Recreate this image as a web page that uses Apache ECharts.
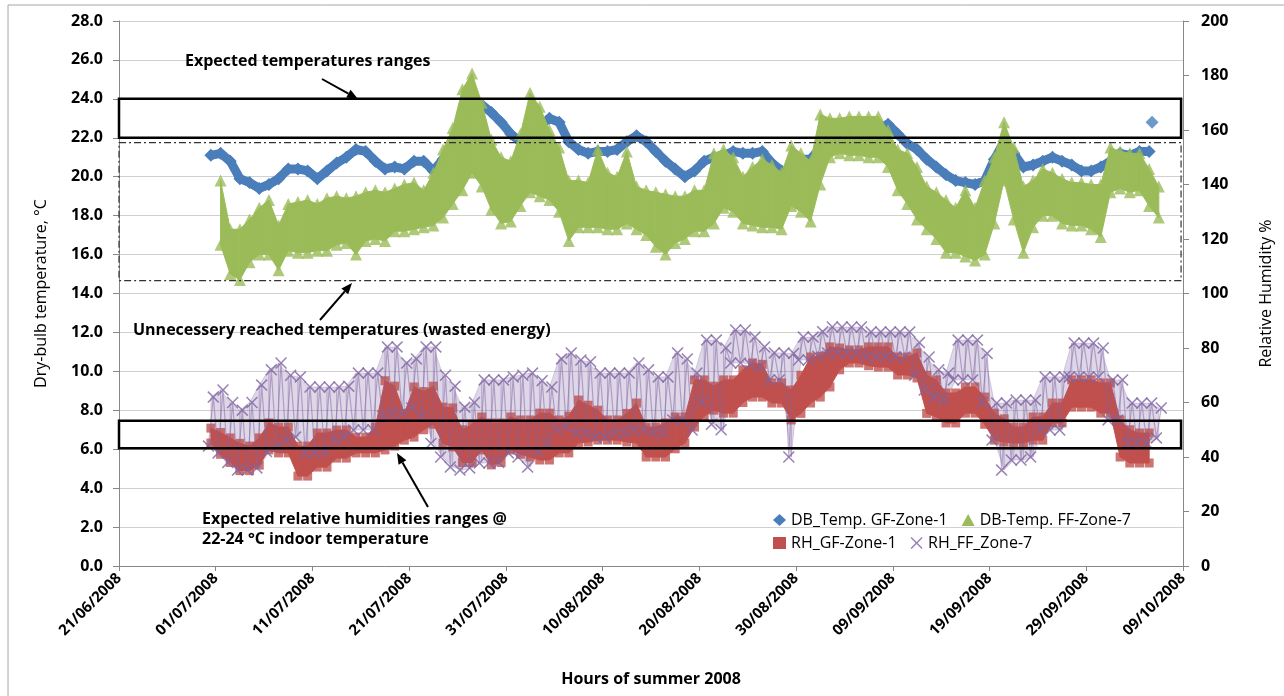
<!DOCTYPE html>
<html>
<head>
<meta charset="utf-8">
<title>Dry-bulb temperature and RH, summer 2008</title>
<script src="https://cdn.jsdelivr.net/npm/echarts@6/dist/echarts.min.js"></script>
<style>
    html, body { margin: 0; padding: 0; background: #fff; }
    #chart { width: 1284px; height: 696px; }
</style>
</head>
<body>
<div id="chart"></div>
<script>
// x axis is in days after 21/06/2008; first reading day is 30/06/2008
var firstDay = 9;
var xTickLabels = ['21/06/2008', '01/07/2008', '11/07/2008', '21/07/2008', '31/07/2008', '10/08/2008',
    '20/08/2008', '30/08/2008', '09/09/2008', '19/09/2008', '29/09/2008', '09/10/2008'];

// DB_Temp. GF-Zone-1, daily level (°C)
var dbGF = [21.1, 21.2, 20.8, 19.9, 19.7, 19.4, 19.6, 19.9, 20.4, 20.4,
    20.3, 19.9, 20.3, 20.7, 21.0, 21.4, 21.3, 20.8, 20.4, 20.5,
    20.4, 20.8, 20.8, 20.3, 20.9, 21.7, 23.2, 23.6, 23.7, 23.3,
    22.8, 22.2, 21.8, 21.8, 22.6, 23.0, 22.8, 21.8, 21.4, 21.2,
    21.3, 21.3, 21.4, 21.8, 22.1, 21.8, 21.3, 20.8, 20.4, 20.0,
    20.3, 20.8, 21.0, 21.1, 21.3, 21.2, 21.2, 21.3, 20.7, 20.3,
    20.0, 20.9, 20.9, 21.5, 22.0, 22.2, 22.3, 22.3, 22.4, 22.5,
    22.7, 22.2, 21.7, 21.4, 20.9, 20.5, 20.1, 19.8, 19.7, 19.6,
    19.8, 20.9, 21.8, 21.2, 20.5, 20.6, 20.8, 21.0, 20.8, 20.6,
    20.3, 20.3, 20.5, 20.8, 21.2, 21.1, 21.3, 21.3, null];
// single stray GF reading near the end
var dbGFStray = [[106.8, 22.8]];

// DB-Temp. FF-Zone-7, daily low / high (°C)
var dbFFLow = [null, 16.5, 15.0, 14.7, 15.6, 16.0, 16.0, 15.2, 16.2, 16.1,
    16.1, 16.2, 16.2, 16.5, 16.6, 16.0, 16.7, 16.8, 16.7, 17.2,
    17.2, 17.3, 17.4, 17.5, 17.9, 18.6, 19.3, 20.2, 19.5, 18.3,
    17.6, 17.7, 18.5, 19.2, 19.0, 18.8, 18.2, 16.7, 17.4, 17.4,
    17.4, 17.3, 17.3, 17.6, 17.3, 17.0, 16.4, 16.0, 16.6, 16.8,
    17.2, 17.2, 17.6, 18.4, 18.2, 17.6, 17.5, 17.4, 17.4, 17.3,
    18.5, 18.2, 17.7, 19.6, 21.0, 21.2, 21.1, 21.1, 21.0, 21.0,
    20.5, 19.3, 18.6, 17.8, 17.3, 16.8, 16.1, 16.1, 15.9, 15.7,
    16.0, 17.6, 19.8, 17.8, 16.1, 17.4, 18.0, 18.0, 17.6, 17.5,
    17.5, 17.3, 16.9, 19.2, 19.4, 19.2, 19.3, 18.5, 17.9];
var dbFFHigh = [null, 19.8, 17.3, 17.3, 17.8, 18.4, 18.8, 17.5, 18.6, 18.7,
    18.8, 18.6, 18.9, 19.0, 18.9, 19.0, 19.2, 19.3, 19.2, 19.4,
    19.6, 19.7, 19.3, 20.2, 21.4, 22.5, 24.5, 25.3, 23.8, 21.9,
    21.0, 20.8, 22.2, 24.3, 23.6, 22.4, 21.5, 19.8, 19.8, 19.7,
    21.4, 20.2, 20.0, 21.3, 19.5, 19.3, 19.2, 19.1, 19.0, 19.0,
    19.3, 19.3, 21.2, 21.4, 21.0, 20.0, 20.5, 20.9, 20.6, 20.2,
    21.6, 21.2, 20.8, 23.2, 23.0, 23.0, 23.1, 23.1, 23.1, 23.1,
    22.4, 21.4, 21.2, 20.5, 19.5, 19.2, 18.8, 18.4, 19.3, 18.4,
    19.8, 21.0, 22.8, 21.5, 19.5, 19.8, 20.4, 20.2, 19.9, 19.7,
    19.7, 19.6, 19.6, 21.5, 21.3, 21.2, 21.2, 20.4, 19.5];

// RH_GF-Zone-1, daily low / high (%)
var rhGFLow = [45.1, 41, 38, 35, 35, 37, 42.6, 41.5, 41.5, 33,
    33, 36.3, 36.3, 39.6, 39.6, 41.5, 41.5, 41.5, 42.6, 44,
    46.2, 47.3, 50, 52, 45, 43.7, 38, 38, 42.6, 37.1,
    38, 42.6, 41, 40, 38.9, 38.9, 41.5, 41.5, 45.1, 45.5,
    46.2, 46.2, 46.2, 45.5, 45.1, 40, 40, 40, 43, 45.1,
    51, 55, 57.2, 56.1, 56.1, 60, 62, 62, 59.8, 59.8,
    53.6, 56, 59.8, 62, 65.7, 72, 74.5, 74.5, 73.5, 73,
    73, 70.1, 70.1, 69, 56, 54.7, 52.5, 52.5, 56.1, 56.1,
    52, 46.2, 45.5, 45.1, 45.1, 46.2, 46.2, 52.5, 52.5, 58.3,
    58.3, 58.3, 56.1, 56.1, 40, 37.8, 37.8, 37.8, null];
var rhGFHigh = [50.6, 49, 47, 45, 44, 47, 52.5, 51, 51, 44,
    44, 48.8, 48.8, 49.9, 49.9, 47.3, 47.3, 51, 68, 66,
    56, 65.7, 64, 66, 58.3, 58, 50, 52, 54.7, 52.5,
    52.5, 54.7, 53.6, 53.6, 56.1, 56.1, 53.6, 55, 60.9, 59,
    57.2, 53.6, 53.6, 56, 59.8, 51, 51, 52.5, 54.7, 54.7,
    68.3, 68.3, 66, 68.3, 68.3, 72, 74.5, 74, 67.2, 67.2,
    64.6, 70, 76.7, 77, 80.4, 80, 79.3, 79.3, 80.4, 80.4,
    80.4, 76.7, 76.7, 78.2, 70, 68.3, 63.5, 63.5, 65.7, 65.7,
    62, 56.1, 54, 51, 51, 54.7, 54.7, 59.8, 59.8, 68.3,
    68.3, 68.3, 67.2, 67.2, 53.6, 50, 48.8, 48.8, null];

// RH_FF_Zone-7, daily low / high (%)
var rhFFLow = [44, 41.5, 38, 35.2, 35.2, 36, 42, 43.7, 46, 47.3,
    41.5, 41.5, 42, 46, 47.3, 49.9, 49.9, 50, 55, 56.1,
    56.1, 58, 55, 45, 40, 36.3, 35.2, 36, 37.8, 37.8,
    38, 41.5, 40, 36.3, 42, 44.8, 50, 51, 48.8, 48.8,
    47.3, 47.3, 48.8, 48.8, 49.9, 49.9, 48.8, 48.8, 53.6, 53.6,
    49.9, 60, 52, 50, 74.5, 74.5, 74, 73, 68.3, 68.3,
    40, 75.6, 75.6, 77, 78.2, 78.2, 78.2, 78.2, 76.7, 76.7,
    76.7, 76.7, 76.7, 70, 64.6, 62, 60.9, 68.3, 68.3, 68.3,
    60, 46.2, 35.2, 38.9, 38.9, 40, 49.9, 49.9, 49.9, 69.4,
    69.4, 69.4, 69.4, 53.6, 53.6, 45.1, 45.1, 45.1, 47];
var rhFFHigh = [62, 64.6, 60, 57.2, 60, 66.4, 72, 74.5, 70, 69.4,
    65.7, 65.7, 65.7, 65.7, 66, 70.8, 70.8, 70.8, 80.4, 80.4,
    74.5, 76, 80.4, 80.4, 70, 66, 58.3, 60, 68.3, 68.3,
    68.3, 69.4, 70, 70.8, 68, 65.7, 76, 78.2, 75.6, 75,
    70.8, 70.8, 70.8, 70.8, 74.5, 72, 69.4, 69.4, 78.2, 76,
    70.8, 82.9, 82.9, 80, 86.6, 86.6, 84, 80.4, 78.2, 78.2,
    78, 84, 84, 86, 87.7, 87.7, 87.7, 87.7, 85.9, 85.9,
    85.9, 85.9, 85.9, 82, 76.7, 72, 70.8, 82.9, 82.9, 82.9,
    78, 59.8, 59.8, 60.9, 60.9, 60.9, 69.4, 69.4, 69.4, 81.8,
    81.8, 81.8, 80, 68.3, 68.3, 59.8, 59.8, 59.8, 58];

// annotation boxes: [xFrom, yFrom, xTo, yTo] in axis units
var tempBox = [0, 22.0, 109.8, 24.0];
var wasteBox = [0, 14.66, 109.8, 21.75];
var rhBox = [0, 43.2, 109.8, 53.3];

var FONT = '"Open Sans", "Liberation Sans", sans-serif';
var crossPath = 'path://M0,0.9L0.9,0L5,4.1L9.1,0L10,0.9L5.9,5L10,9.1L9.1,10L5,5.9L0.9,10L0,9.1L4.1,5Z';

function daily(values) {
    var out = [];
    for (var i = 0; i < values.length; i++) {
        if (values[i] != null) out.push([firstDay + i + 0.5, values[i]]);
    }
    return out;
}
// low and high of each day as separate points
function edges(low, high) {
    var out = [];
    for (var i = 0; i < low.length; i++) {
        if (low[i] != null) out.push([firstDay + i + 0.5, low[i]]);
        if (high[i] != null) out.push([firstDay + i + 0.5, high[i]]);
    }
    return out;
}
// night low / afternoon high, joined, for the hatch of RH_FF
function zigzag(low, high) {
    var out = [];
    for (var i = 0; i < low.length; i++) {
        if (low[i] != null) out.push([firstDay + i + 0.25, low[i]]);
        if (high[i] != null) out.push([firstDay + i + 0.75, high[i]]);
    }
    return out;
}
function bandItems(low, high) {
    var out = [];
    for (var i = 0; i < low.length; i++) {
        if (low[i] != null && high[i] != null) out.push([firstDay + i + 0.5, low[i], high[i]]);
    }
    return out;
}
// filled band between the daily low and high, drawn through the axes
function bandSeries(name, items, yIndex, color, fill, z) {
    return {
        name: name,
        type: 'custom',
        yAxisIndex: yIndex,
        z: z,
        silent: true,
        data: items,
        encode: { x: 0, y: [1, 2] },
        itemStyle: { color: color },
        renderItem: function (params, api) {
            var i = params.dataIndex;
            if (i >= items.length - 1) return { type: 'group', children: [] };
            var a = items[i], b = items[i + 1];
            var pts = [api.coord([a[0], a[1]]), api.coord([b[0], b[1]]), api.coord([b[0], b[2]]), api.coord([a[0], a[2]])];
            return { type: 'polygon', shape: { points: pts }, style: { fill: fill, stroke: fill, lineWidth: 1 } };
        }
    };
}

var chart = echarts.init(document.getElementById('chart'));

var legendText = { fontSize: 16, color: '#000', width: 176, fontFamily: FONT };
var option = {
    animation: false,
    textStyle: { fontFamily: FONT },
    grid: { left: 119, right: 101, top: 21, bottom: 130 },
    legend: [
        {
            left: 768, top: 507, itemWidth: 13, itemHeight: 12, itemGap: 14, textStyle: legendText,
            data: [
                { name: 'DB_Temp. GF-Zone-1', icon: 'diamond' },
                { name: 'DB-Temp. FF-Zone-7', icon: 'triangle' }
            ]
        },
        {
            left: 768, top: 530, itemWidth: 13, itemHeight: 12, itemGap: 14, textStyle: legendText,
            data: [
                { name: 'RH_GF-Zone-1', icon: 'rect' },
                { name: 'RH_FF_Zone-7', icon: crossPath }
            ]
        }
    ],
    xAxis: {
        type: 'value',
        min: 0,
        max: 110,
        interval: 10,
        name: 'Hours of summer 2008',
        nameLocation: 'middle',
        nameGap: 105,
        nameTextStyle: { fontSize: 16, fontWeight: 'bold', color: '#000' },
        axisLine: { lineStyle: { color: '#878787' } },
        axisTick: { show: true, length: 5, lineStyle: { color: '#878787' } },
        splitLine: { show: false },
        axisLabel: {
            rotate: 45,
            margin: 10,
            fontSize: 15,
            fontWeight: 'bold',
            color: '#000',
            formatter: function (v) {
                return xTickLabels[Math.round(v / 10)];
            }
        }
    },
    yAxis: [
        {
            type: 'value',
            min: 0,
            max: 28,
            interval: 2,
            name: 'Dry-bulb temperature, °C',
            nameLocation: 'middle',
            nameRotate: 90,
            nameGap: 70,
            nameTextStyle: { fontSize: 16, color: '#000' },
            axisLine: { show: true, lineStyle: { color: '#878787' } },
            axisTick: { show: true, length: 6, lineStyle: { color: '#878787' } },
            splitLine: { lineStyle: { color: '#d0d0d0' } },
            axisLabel: {
                margin: 16,
                fontSize: 16,
                fontWeight: 'bold',
                color: '#000',
                formatter: function (v) { return v.toFixed(1); }
            }
        },
        {
            type: 'value',
            min: 0,
            max: 200,
            interval: 20,
            position: 'right',
            name: 'Relative Humidity %',
            nameLocation: 'middle',
            nameRotate: 90,
            nameGap: 75,
            nameTextStyle: { fontSize: 16, color: '#000' },
            axisLine: { show: true, lineStyle: { color: '#878787' } },
            axisTick: { show: true, length: 6, lineStyle: { color: '#878787' } },
            splitLine: { show: false },
            axisLabel: { margin: 18, fontSize: 16, fontWeight: 'bold', color: '#000' }
        }
    ],
    series: [
        {
            name: 'DB_Temp. GF-Zone-1',
            type: 'line',
            yAxisIndex: 0,
            z: 2,
            data: daily(dbGF),
            symbol: 'diamond',
            symbolSize: 13,
            showAllSymbol: true,
            itemStyle: { color: '#4A7EBB' },
            lineStyle: { color: '#4A7EBB', width: 9, join: 'bevel' }
        },
        {
            name: 'DB_Temp. GF-Zone-1',
            type: 'scatter',
            yAxisIndex: 0,
            z: 2,
            data: dbGFStray,
            symbol: 'diamond',
            symbolSize: 13,
            itemStyle: { color: '#4A7EBB' }
        },
        bandSeries('DB-Temp. FF-Zone-7', bandItems(dbFFLow, dbFFHigh), 0, '#9BBB59', '#9BBB59', 3),
        {
            name: 'DB-Temp. FF-Zone-7',
            type: 'scatter',
            yAxisIndex: 0,
            z: 4,
            data: edges(dbFFLow, dbFFHigh),
            symbol: 'triangle',
            symbolSize: 12,
            itemStyle: { color: '#9BBB59' }
        },
        {
            name: 'RH_FF_Zone-7',
            type: 'line',
            yAxisIndex: 1,
            z: 8,
            data: zigzag(rhFFLow, rhFFHigh),
            symbol: crossPath,
            symbolSize: 12,
            showAllSymbol: true,
            itemStyle: { color: '#8064A2', opacity: 0.8 },
            lineStyle: { color: 'rgba(128,100,162,0.5)', width: 1.2 }
        },
        bandSeries('RH_FF_Zone-7', bandItems(rhFFLow, rhFFHigh), 1, '#8064A2', 'rgba(128,100,162,0.26)', 5),
        bandSeries('RH_GF-Zone-1', bandItems(rhGFLow, rhGFHigh), 1, '#C0504D', '#C0504D', 6),
        {
            name: 'RH_GF-Zone-1',
            type: 'scatter',
            yAxisIndex: 1,
            z: 7,
            data: edges(rhGFLow, rhGFHigh),
            symbol: 'rect',
            symbolSize: 9,
            itemStyle: { color: '#C0504D' }
        }
    ]
};
chart.setOption(option);

// annotation boxes placed through the axes, then texts and arrows
function box(b, yIndex, style) {
    var x1 = chart.convertToPixel({ xAxisIndex: 0 }, b[0]);
    var x2 = chart.convertToPixel({ xAxisIndex: 0 }, b[2]);
    var y1 = chart.convertToPixel({ yAxisIndex: yIndex }, b[3]);
    var y2 = chart.convertToPixel({ yAxisIndex: yIndex }, b[1]);
    return {
        type: 'rect',
        z: 100,
        shape: { x: x1, y: y1, width: x2 - x1, height: y2 - y1 },
        style: style
    };
}
function arrow(x1, y1, x2, y2) {
    var a = Math.atan2(y2 - y1, x2 - x1), L = 11, W = 4.5;
    var bx = x2 - L * Math.cos(a), by = y2 - L * Math.sin(a);
    return [
        { type: 'line', z: 100, shape: { x1: x1, y1: y1, x2: bx, y2: by }, style: { stroke: '#000', lineWidth: 2 } },
        {
            type: 'polygon', z: 100,
            shape: { points: [[x2, y2], [bx + W * Math.sin(a), by - W * Math.cos(a)], [bx - W * Math.sin(a), by + W * Math.cos(a)]] },
            style: { fill: '#000' }
        }
    ];
}
function label(text, x, y) {
    return {
        type: 'text', z: 100,
        style: { text: text, x: x, y: y, fill: '#000', fontSize: 16, fontWeight: 'bold', fontFamily: FONT, verticalAlign: 'middle' }
    };
}

var graphics = [
    { type: 'rect', z: 0, shape: { x: 8, y: 5, width: 1300, height: 720 }, style: { fill: 'none', stroke: '#a6a6a6', lineWidth: 1 } },
    box(wasteBox, 0, { fill: 'none', stroke: '#333', lineWidth: 1.2, lineDash: [7, 3, 2, 3] }),
    box(tempBox, 0, { fill: 'none', stroke: '#000', lineWidth: 2.5 }),
    box(rhBox, 1, { fill: 'none', stroke: '#000', lineWidth: 2.5 }),
    label('Expected temperatures ranges', 185, 61),
    label('Unnecessery reached temperatures (wasted energy)', 133, 330),
    label('Expected relative humidities ranges @', 202, 519),
    label('22-24 °C indoor temperature', 202, 539)
].concat(arrow(322, 79, 358, 99), arrow(320, 320, 352, 283), arrow(428, 507, 397, 453));

chart.setOption({ graphic: graphics });

window.addEventListener('resize', function () {
    chart.resize();
});
</script>
</body>
</html>
